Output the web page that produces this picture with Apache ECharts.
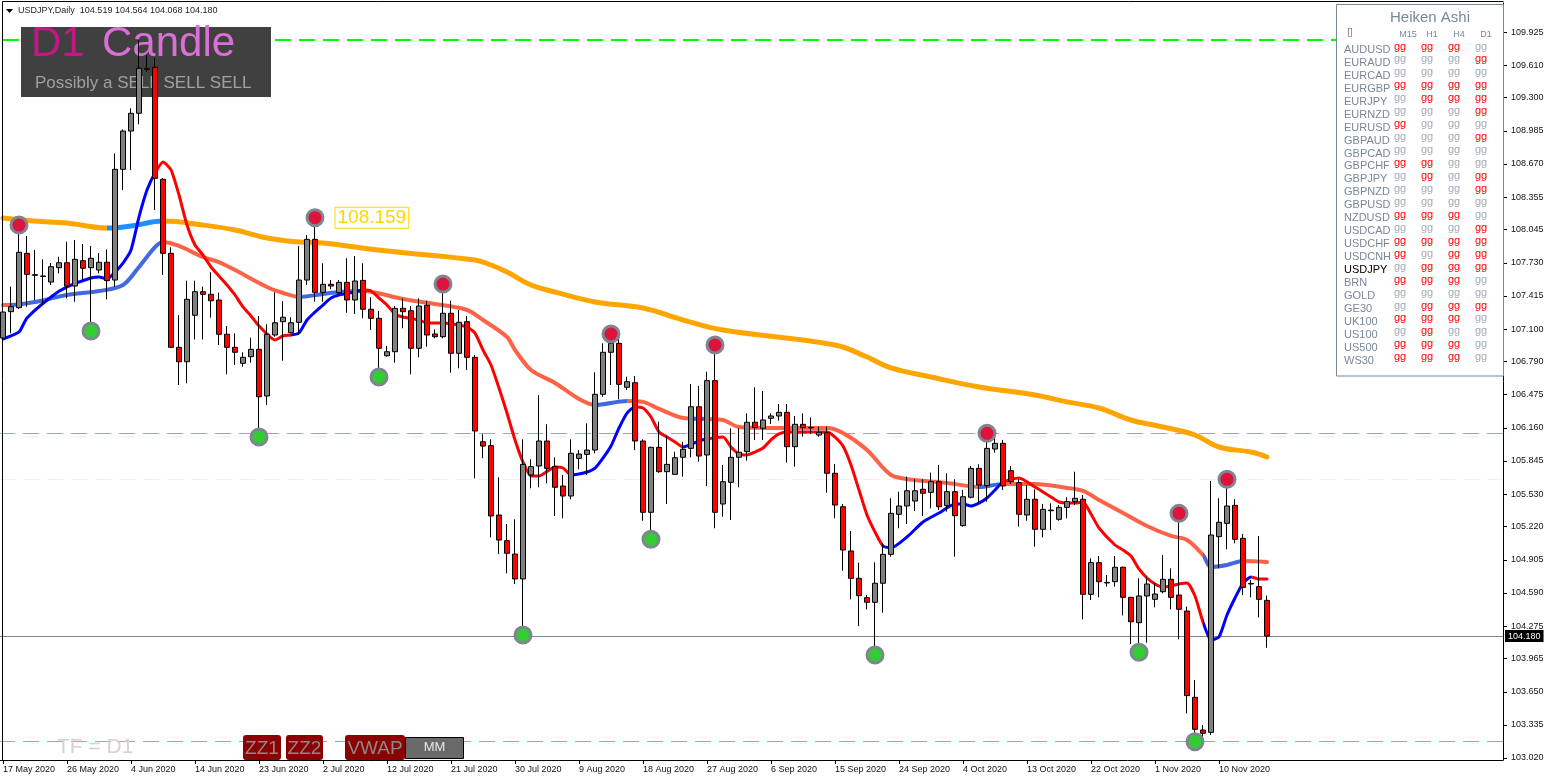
<!DOCTYPE html>
<html>
<head>
<meta charset="utf-8">
<script src="https://cdn.jsdelivr.net/npm/echarts@6/dist/echarts.min.js"></script>
<style>html,body{margin:0;padding:0;background:#fff;}#c{width:1550px;height:781px;}</style>
</head>
<body>
<div id="c"></div>
<script>
// ---------------- DATA ----------------
const symbolName = 'USDJPY';
const timeframeName = 'Daily';
const barCount = 159;          // daily bars shown (17 May 2020 .. 17 Nov 2020)
const slotCount = 188;         // bar slots across the chart width (right shift space)

const opens = [
107.015,107.265,107.303,107.820,107.617,107.605,107.547,107.683,107.731,107.509,
107.750,107.683,107.661,107.735,107.566,108.619,108.983,109.152,109.577,109.589,
108.524,107.820,106.926,106.789,107.231,107.455,107.430,107.376,107.050,106.926,
106.774,106.837,106.907,106.463,107.043,107.170,107.065,107.164,107.566,107.953,
107.449,107.525,107.446,107.544,107.376,107.563,107.288,107.202,106.846,106.884,
107.297,107.274,106.917,107.326,107.053,107.027,107.250,106.869,107.170,106.831,
106.028,105.991,105.331,105.087,104.960,104.723,105.712,105.797,106.035,105.791,
105.607,105.512,105.870,105.908,105.949,106.479,106.879,106.964,106.546,106.590,
106.035,105.357,105.975,105.743,105.718,105.880,105.965,106.361,105.902,106.609,
105.436,105.642,105.880,105.934,106.213,106.156,106.251,106.273,106.308,105.981,
106.194,106.165,106.092,106.114,105.728,105.410,104.989,104.729,104.545,104.501,
104.682,104.957,105.338,105.417,105.464,105.576,105.547,105.648,105.420,105.553,
105.230,105.500,105.775,105.610,105.959,106.013,105.753,105.639,105.331,105.481,
105.195,105.372,105.290,105.404,105.458,105.481,104.577,104.878,104.690,104.697,
104.834,104.548,104.307,104.561,104.529,104.602,104.720,104.570,104.418,103.597,
103.286,103.264,105.125,105.252,105.423,105.109,104.675,104.650,104.519];

const highs = [
107.319,107.503,108.089,107.985,107.852,107.763,107.728,107.788,107.931,107.947,
107.909,107.890,107.823,107.858,108.771,108.999,109.199,109.849,109.706,109.678,
108.537,107.877,107.233,107.560,107.560,107.503,107.640,107.446,107.129,107.059,
106.879,107.018,107.224,107.145,107.450,107.366,107.212,107.890,107.994,108.159,
107.725,107.566,107.566,107.773,107.795,107.725,107.402,107.272,106.939,107.319,
107.392,107.319,107.392,107.369,107.097,107.528,107.369,107.281,107.224,106.853,
106.099,106.051,105.690,105.246,105.290,106.051,105.861,106.472,106.194,105.880,
105.712,106.051,105.949,106.203,106.688,106.964,107.053,107.043,106.647,106.653,
106.051,105.981,106.219,106.083,105.933,106.028,106.577,106.558,106.694,106.948,
105.807,106.156,106.156,106.298,106.546,106.511,106.298,106.387,106.387,106.273,
106.298,106.260,106.171,106.171,105.816,105.436,105.179,104.878,104.570,104.881,
105.062,105.490,105.553,105.696,105.671,105.671,105.734,105.807,105.728,105.671,
105.569,105.797,105.813,106.108,106.108,106.045,105.797,105.671,105.617,105.576,
105.436,105.443,105.426,105.500,105.743,105.522,104.919,104.941,104.761,104.941,
104.840,104.554,104.729,104.745,104.682,104.951,104.824,105.347,104.459,103.762,
103.334,105.655,105.490,105.671,105.483,105.150,104.713,105.132,104.564];

const lows = [
106.977,107.059,107.290,107.312,107.376,107.328,107.519,107.630,107.392,107.360,
107.566,107.081,107.630,107.383,107.503,108.422,108.612,109.047,109.545,108.232,
107.614,106.920,106.568,106.584,107.000,107.000,107.208,106.948,106.669,106.758,
106.742,106.780,106.073,106.377,107.027,106.799,107.059,107.043,107.519,107.360,
107.360,107.478,107.430,107.255,107.243,107.202,107.091,106.644,106.837,106.780,
107.107,106.669,106.831,106.932,107.012,107.012,106.685,106.726,106.710,105.680,
105.871,105.119,104.960,104.777,104.675,104.190,105.585,105.595,105.633,105.322,
105.300,105.481,105.766,105.712,105.918,106.456,106.568,106.432,106.520,105.949,
105.277,105.100,105.734,105.436,105.712,105.696,105.880,105.838,105.607,105.205,
105.315,105.284,105.595,105.848,106.045,106.045,106.197,106.228,105.829,105.791,
106.076,106.102,106.076,105.543,105.300,104.801,104.529,104.275,104.434,104.000,
104.402,104.935,105.205,105.246,105.369,105.322,105.395,105.379,105.363,104.935,
105.220,105.490,105.448,105.458,105.924,105.569,105.626,105.220,105.277,105.030,
105.119,105.189,105.277,105.300,105.426,104.339,104.523,104.548,104.650,104.650,
104.376,104.104,104.025,104.117,104.453,104.586,104.434,104.149,103.445,103.175,
103.185,103.239,104.824,105.005,105.062,104.570,104.548,104.358,104.068];

const closes = [
107.262,107.312,107.830,107.620,107.611,107.600,107.693,107.731,107.509,107.763,
107.678,107.773,107.735,107.560,108.619,108.983,109.152,109.580,109.570,108.534,
107.820,106.926,106.789,107.383,107.455,107.430,107.369,107.050,106.926,106.879,
106.831,106.907,106.456,107.050,107.160,107.212,107.160,107.566,107.953,107.449,
107.525,107.509,107.544,107.376,107.557,107.288,107.202,106.917,106.884,107.297,
107.265,106.917,107.319,107.043,107.027,107.250,106.869,107.164,106.831,106.130,
105.987,105.322,105.093,104.967,104.723,105.813,105.791,106.035,105.775,105.595,
105.512,105.918,105.911,105.949,106.479,106.879,106.964,106.574,106.599,106.035,
105.357,105.975,105.743,105.813,105.876,105.956,106.361,105.892,106.609,105.357,
105.648,105.880,105.928,106.213,106.162,106.235,106.273,106.308,105.981,106.194,
106.162,106.160,106.118,105.728,105.426,104.998,104.729,104.564,104.501,104.682,
104.957,105.347,105.417,105.562,105.562,105.538,105.648,105.410,105.553,105.325,
105.505,105.775,105.617,105.965,106.013,105.607,105.648,105.338,105.481,105.195,
105.385,105.378,105.404,105.458,105.490,104.577,104.878,104.697,104.685,104.834,
104.548,104.316,104.561,104.675,104.580,104.720,104.548,104.434,103.613,103.293,
103.255,105.141,105.262,105.417,105.100,104.643,104.680,104.529,104.180];

// price-axis tick labels
const yTickValues = [103.020,103.335,103.650,103.965,104.275,104.590,104.905,105.220,105.530,105.845,
  106.160,106.475,106.790,107.100,107.415,107.730,108.045,108.355,108.670,108.985,109.300,109.610,109.925];
const yMin = 103.001, yMax = 110.201;

// moving averages: [bar index, price]
const maSlow = [[0,108.156],[4,108.127],[8,108.108],[13,108.061],[16,108.080],[20,108.127],[25,108.089],[29,108.042],
  [33,107.966],[37,107.928],[40,107.918],[48,107.842],[59,107.757],[61,107.709],[63,107.642],[66,107.519],[69,107.452],
  [74,107.357],[80,107.300],[85,107.186],[90,107.090],[104,106.948],[108,106.834],[111,106.730],[116,106.644],[122,106.549],
  [129,106.473],[133,106.407],[137,106.349],[141,106.235],[145,106.168],[149,106.092],[152,105.978],[156,105.930],[158,105.883]];
const maSlowUp = [[13,20]];

const maMid = [[0,107.328],[1,107.328],[4,107.357],[8,107.424],[12,107.461],[15,107.519],[17,107.690],[19,107.880],[20,107.928],
  [22,107.890],[25,107.785],[27,107.737],[29,107.661],[33,107.500],[35,107.443],[37,107.405],[40,107.433],[42,107.452],[45,107.462],
  [50,107.386],[54,107.338],[58,107.281],[60,107.186],[63,107.024],[64,106.901],[66,106.710],[69,106.587],[72,106.435],[74,106.378],
  [78,106.416],[80,106.407],[82,106.340],[85,106.254],[88,106.244],[90,106.235],[92,106.168],[97,106.159],[103,106.159],[105,106.111],
  [108,105.950],[111,105.712],[114,105.664],[118,105.636],[122,105.598],[125,105.627],[129,105.627],[133,105.589],[135,105.560],
  [137,105.474],[140,105.350],[143,105.227],[146,105.132],[148,105.094],[150,104.951],[151,104.837],[153,104.856],[155,104.894],[158,104.884]];
const maMidUp = [[1,20],[37,45],[74,78],[86,88],[122,125],[150,155]];

const maFast = [[0,107.005],[2,107.072],[3,107.205],[6,107.405],[8,107.500],[11,107.585],[12,107.595],[13,107.576],[14,107.642],
  [15,107.728],[16,107.852],[17,108.166],[18,108.422],[19,108.584],[20,108.689],[21,108.613],[22,108.375],[23,108.089],[24,107.899],
  [25,107.804],[26,107.690],[27,107.604],[28,107.519],[29,107.424],[30,107.310],[31,107.224],[32,107.129],[34,106.996],[35,107.034],
  [36,107.043],[37,107.062],[38,107.186],[39,107.262],[40,107.328],[41,107.395],[42,107.424],[44,107.452],[45,107.471],[46,107.462],
  [47,107.395],[48,107.328],[49,107.243],[50,107.214],[52,107.186],[53,107.157],[55,107.157],[56,107.148],[58,107.119],[59,107.062],
  [60,106.901],[61,106.758],[62,106.539],[63,106.301],[64,106.045],[65,105.835],[66,105.702],[67,105.702],[69,105.788],[70,105.778],
  [71,105.712],[72,105.721],[73,105.740],[74,105.778],[75,105.873],[76,105.987],[77,106.159],[78,106.301],[79,106.359],[80,106.349],
  [81,106.263],[82,106.121],[83,106.073],[84,106.026],[85,105.978],[87,106.035],[88,106.054],[90,106.073],[91,105.978],[92,105.911],
  [93,105.902],[94,105.930],[95,105.968],[96,106.045],[97,106.102],[98,106.121],[100,106.121],[102,106.121],[103,106.121],[104,106.073],
  [105,105.987],[106,105.807],[107,105.569],[108,105.331],[109,105.170],[110,105.037],[111,105.017],[113,105.122],[115,105.265],
  [117,105.350],[119,105.436],[120,105.436],[121,105.417],[122,105.445],[123,105.493],[124,105.569],[125,105.645],[127,105.683],
  [129,105.597],[130,105.550],[131,105.503],[132,105.455],[133,105.445],[134,105.445],[135,105.455],[136,105.341],[137,105.208],
  [139,105.046],[140,104.999],[141,104.941],[142,104.818],[143,104.732],[144,104.675],[145,104.646],[146,104.656],[147,104.675],
  [148,104.684],[149,104.561],[150,104.313],[151,104.142],[152,104.171],[153,104.380],[154,104.542],[155,104.684],[156,104.741],
  [157,104.722],[158,104.722]];
const maFastUp = [[0,19],[36,45],[71,79],[85,88],[110,125],[150,156]];

// fractal signal bars
const fractalHighIdx = [2,39,55,76,89,123,147,153];
const fractalLowIdx = [11,32,47,65,81,109,142,149];
const labelledHighIdx = 39;

// horizontal levels
const greenLevel = 109.849;
const greenHiddenBars = [2, 34];   // bar span covered by the "D1 Candle" box
const pinkLevels = [106.111, 103.177];
const faintLevel = 105.669;

// Heiken Ashi dashboard
const haTitle = 'Heiken Ashi';
const haTimeframes = ['M15','H1','H4','D1'];
const haSymbols = ['AUDUSD','EURAUD','EURCAD','EURGBP','EURJPY','EURNZD','EURUSD','GBPAUD','GBPCAD','GBPCHF','GBPJPY','GBPNZD',
  'GBPUSD','NZDUSD','USDCAD','USDCHF','USDCNH','USDJPY','BRN','GOLD','GE30','UK100','US100','US500','WS30'];
const haSignals = ['rrrg','gggr','gggg','rrrr','grrr','gggr','rggg','gggr','gggg','rrgg','grgr','gggr','gggg','rrrg','gggr',
  'rrrr','rgrr','grrr','rrrg','gggg','grrr','rrrg','grgg','rrrg','rrrg'];

const bottomButtons = ['ZZ1','ZZ2','VWAP','MM'];

// ---------------- BUILD ----------------
const FONT = "'Liberation Sans', Arial, sans-serif";
const monthNames = ['Jan','Feb','Mar','Apr','May','Jun','Jul','Aug','Sep','Oct','Nov','Dec'];
const dates = [];
(function(){
  let t = Date.UTC(2020, 4, 17);
  while (dates.length < barCount) {
    const d = new Date(t);
    if (d.getUTCDay() !== 6) dates.push(d.getUTCDate() + ' ' + monthNames[d.getUTCMonth()] + ' ' + d.getUTCFullYear());
    t += 86400000;
  }
})();
const categories = dates.slice();
for (let i = barCount; i < slotCount; i++) categories.push('slot' + i);
const showDate = (i) => i < barCount && i % 8 === 0;

const candles = opens.map((o, i) => [o, closes[i], lows[i], highs[i]]);
const last = barCount - 1;
const bidPrice = closes[last];
const greenSegments = [[0, greenLevel], [greenHiddenBars[0], greenLevel], [greenHiddenBars[0] + 1, null],
  [greenHiddenBars[1], greenLevel], [slotCount - 1, greenLevel]];

function upPieces(ranges, color) { return ranges.map(r => ({gte: r[0], lte: r[1], color: color})); }

function txt(x, y, text, size, color, align, extra) {
  const st = Object.assign({text: String(text), font: size + 'px ' + FONT, fill: color,
    align: align || 'left', textAlign: align || 'left', verticalAlign: 'middle', textVerticalAlign: 'middle'}, extra || {});
  return {type: 'text', x: x, y: y, zlevel: 1, z: 5, z2: 2, silent: true, style: st};
}
function shape(type, shp, style, z2) {
  return {type: type, zlevel: 1, z: 5, z2: z2 == null ? 1 : z2, silent: true, shape: shp, style: style};
}

const graphics = [];
// frame (left + top)
graphics.push(shape('polyline', {points: [[2.5, 760], [2.5, 1.5], [1503.5, 1.5]]}, {stroke: '#000', lineWidth: 1, fill: null}, 5));
// title
graphics.push(shape('polygon', {points: [[6, 9], [13, 9], [9.5, 13]]}, {fill: '#000'}, 5));
graphics.push(txt(18, 11, symbolName + ',' + timeframeName + '  ' + [opens[last], highs[last], lows[last], closes[last]].map(v => v.toFixed(3)).join(' '), 9, '#1e1e1e', 'left'));
// D1 candle box (candles are drawn above it on a higher layer)
graphics.push(shape('rect', {x: 21, y: 27, width: 250, height: 70}, {fill: '#404040'}));
graphics.push(txt(31, 44, 'D1', 42, '#C71585', 'left'));
graphics.push(txt(102, 44, 'Candle', 42, '#DA70D6', 'left'));
graphics.push(txt(35, 83, 'Possibly a SELL SELL SELL', 17, '#A0A0A0', 'left'));
// bottom labels/buttons
graphics.push(txt(57, 747, 'TF = D1', 21, '#D3D3D3', 'left'));
const btnBoxes = [[243, 38], [286, 37], [345, 60], [405, 58]];
bottomButtons.forEach((b, k) => {
  const bx = btnBoxes[k][0], bw = btnBoxes[k][1];
  if (b === 'MM') {
    graphics.push(shape('rect', {x: bx + 0.5, y: 737.5, width: bw, height: 21}, {fill: '#696969', stroke: '#000', lineWidth: 1}));
    graphics.push(txt(bx + bw / 2 + 0.5, 747, b, 13, '#E6E6E6', 'center'));
  } else {
    graphics.push(shape('rect', {x: bx, y: 735, width: bw, height: 25, r: 3}, {fill: '#8B0000'}));
    graphics.push(txt(bx + bw / 2, 748.5, b, 19, '#8A8A8A', 'center'));
  }
});
// Heiken Ashi panel
graphics.push(shape('rect', {x: 1336.5, y: 4.5, width: 167, height: 371.5}, {fill: '#fff', stroke: '#778899', lineWidth: 1}));
graphics.push(txt(1430, 18, haTitle, 15, '#778899', 'center'));
graphics.push(txt(1347, 32, '\u25AF', 11, '#8B4A4A', 'left', {font: '11px "DejaVu Sans", sans-serif'}));
const haColX = [1394, 1421, 1448, 1475];
const haHeadX = [1408, 1432, 1459, 1486];
haTimeframes.forEach((tf, k) => graphics.push(txt(haHeadX[k], 34.5, tf, 9, '#778899', 'center')));
haSymbols.forEach((s, r) => {
  const y = 49.9 + r * 12.95;
  graphics.push(txt(1344, y, s, 11, s === symbolName ? '#000000' : '#778899', 'left'));
  for (let k = 0; k < 4; k++) {
    const red = haSignals[r][k] === 'r';
    graphics.push(txt(haColX[k], y - 3.4, 'gg', 11, red ? '#FF0000' : '#A3ABB5', 'left'));
  }
});

const option = {
  animation: false,
  backgroundColor: '#ffffff',
  textStyle: {fontFamily: FONT},
  grid: {left: -1, right: 47, top: 3, bottom: 21, containLabel: false, outerBoundsMode: 'none'},
  xAxis: {
    type: 'category', data: categories, boundaryGap: true,
    axisLine: {show: true, lineStyle: {color: '#000', width: 1}},
    axisTick: {show: true, interval: (i) => showDate(i), alignWithLabel: true, length: 4, lineStyle: {color: '#000'}},
    axisLabel: {interval: (i) => showDate(i), align: 'left', margin: 5, fontSize: 9, color: '#111', fontFamily: FONT},
    splitLine: {show: false}
  },
  yAxis: {
    type: 'value', position: 'right', min: yMin, max: yMax,
    axisLine: {show: true, lineStyle: {color: '#000', width: 1}},
    axisTick: {show: true, length: 4, customValues: yTickValues, lineStyle: {color: '#000'}},
    axisLabel: {customValues: yTickValues, formatter: (v) => Number(v).toFixed(3), margin: 8, fontSize: 9, color: '#111', fontFamily: FONT},
    splitLine: {show: false}
  },
  visualMap: [
    {type: 'piecewise', show: false, seriesIndex: 2, dimension: 0, pieces: upPieces(maSlowUp, '#1E90FF'), outOfRange: {color: '#FFA500'}},
    {type: 'piecewise', show: false, seriesIndex: 3, dimension: 0, pieces: upPieces(maMidUp, '#4169E1'), outOfRange: {color: '#FF6347'}},
    {type: 'piecewise', show: false, seriesIndex: 4, dimension: 0, pieces: upPieces(maFastUp, '#0000FF'), outOfRange: {color: '#FF0000'}}
  ],
  series: [
    {
      name: 'levels', type: 'line', data: [], z: 0, silent: true,
      markLine: {
        z: 0, silent: true, symbol: ['none', 'none'], animation: false, label: {show: false},
        data: [
          {yAxis: pinkLevels[0], lineStyle: {color: '#EE7FB5', width: 1, type: [16, 8]}},
          {yAxis: pinkLevels[1], lineStyle: {color: '#EE7FB5', width: 1, type: [16, 8]}},
          {yAxis: faintLevel, lineStyle: {color: '#F6ECF0', width: 1, type: [16, 8]}},
          {yAxis: bidPrice, lineStyle: {color: '#778899', width: 1, type: 'solid'},
            label: {show: true, position: 'end', formatter: bidPrice.toFixed(3), color: '#fff', backgroundColor: '#000',
              padding: [2, 3, 1, 3], fontSize: 9, distance: 2, fontFamily: FONT}}
        ]
      }
    },
    {name: 'green level', type: 'line', z: 0, silent: true, symbol: 'none', showSymbol: false, connectNulls: false,
      data: greenSegments,
      lineStyle: {color: '#00FF00', width: 2, type: [16, 8]}},
    {name: 'MA slow', type: 'line', data: maSlow, z: 2, symbol: 'none', showSymbol: false, silent: true, smooth: 0.4,
      lineStyle: {width: 5, cap: 'round', join: 'round'}},
    {name: 'MA mid', type: 'line', data: maMid, z: 2, symbol: 'none', showSymbol: false, silent: true, smooth: 0.3,
      lineStyle: {width: 4, cap: 'round', join: 'round'}},
    {name: 'MA fast', type: 'line', data: maFast, z: 2, symbol: 'none', showSymbol: false, silent: true, smooth: 0.2,
      lineStyle: {width: 3, cap: 'round', join: 'round'}},
    {name: symbolName, type: 'candlestick', data: candles, zlevel: 2, z: 6, barWidth: 5, silent: true,
      itemStyle: {color: '#808080', color0: '#FF0000', borderColor: '#000000', borderColor0: '#000000', borderWidth: 1}},
    {name: 'fractal high', type: 'scatter', zlevel: 2, z: 8, symbol: 'circle', symbolSize: 16, silent: true,
      itemStyle: {color: '#DC143C', borderColor: '#7E8691', borderWidth: 3, opacity: 1},
      data: fractalHighIdx.map(i => i === labelledHighIdx
        ? {value: [i, highs[i]], label: {show: true, position: 'right', distance: 11, formatter: highs[i].toFixed(3),
            color: '#FFD700', fontSize: 19, fontFamily: FONT, borderColor: '#FFD700', borderWidth: 1,
            padding: [1, 2, 0, 2], backgroundColor: '#ffffff'}}
        : [i, highs[i]])},
    {name: 'fractal low', type: 'scatter', zlevel: 2, z: 8, symbol: 'circle', symbolSize: 16, silent: true,
      itemStyle: {color: '#32CD32', borderColor: '#7E8691', borderWidth: 3, opacity: 1},
      data: fractalLowIdx.map(i => [i, lows[i]])}
  ],
  graphic: {zlevel: 1, z: 5, elements: graphics}
};

const chart = echarts.init(document.getElementById('c'), null, {renderer: 'canvas'});
chart.setOption(option);
</script>
</body>
</html>
